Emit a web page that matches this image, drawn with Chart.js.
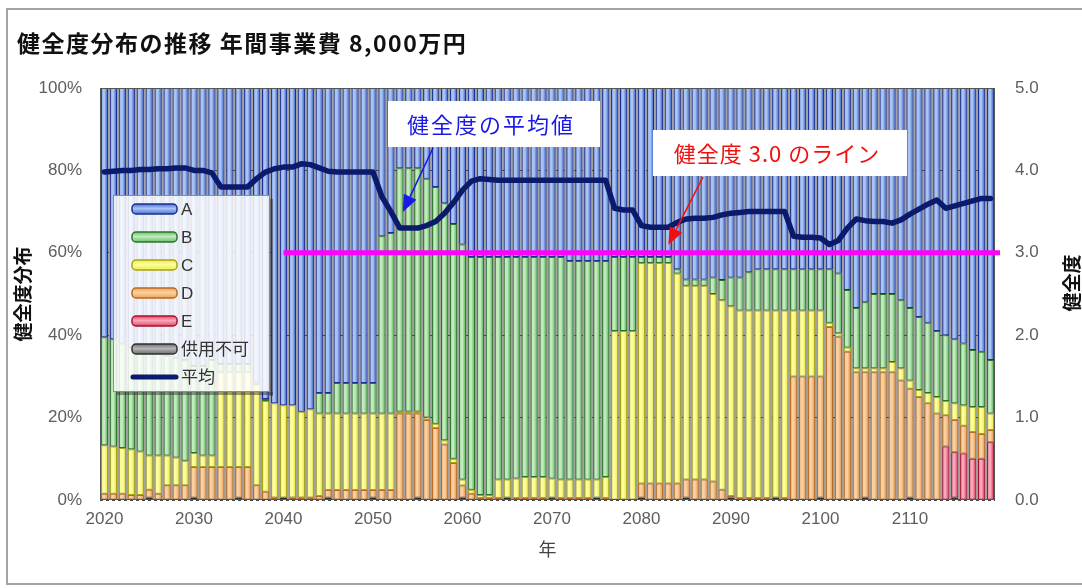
<!DOCTYPE html>
<html lang="ja">
<head>
<meta charset="utf-8">
<title>健全度分布の推移</title>
<script src="https://cdn.jsdelivr.net/npm/chart.js@4.4.1/dist/chart.umd.min.js"></script>
<style>
  html, body { margin: 0; padding: 0; background: #fff; overflow: hidden; }
  #wrap { width: 1082px; height: 588px; }
</style>
</head>
<body>
<div id="wrap"><canvas id="chart" width="1082" height="588"></canvas></div>
<script>
// Years on the category axis
const years = [
  2020, 2021, 2022, 2023, 2024, 2025, 2026, 2027, 2028, 2029,
  2030, 2031, 2032, 2033, 2034, 2035, 2036, 2037, 2038, 2039,
  2040, 2041, 2042, 2043, 2044, 2045, 2046, 2047, 2048, 2049,
  2050, 2051, 2052, 2053, 2054, 2055, 2056, 2057, 2058, 2059,
  2060, 2061, 2062, 2063, 2064, 2065, 2066, 2067, 2068, 2069,
  2070, 2071, 2072, 2073, 2074, 2075, 2076, 2077, 2078, 2079,
  2080, 2081, 2082, 2083, 2084, 2085, 2086, 2087, 2088, 2089,
  2090, 2091, 2092, 2093, 2094, 2095, 2096, 2097, 2098, 2099,
  2100, 2101, 2102, 2103, 2104, 2105, 2106, 2107, 2108, 2109,
  2110, 2111, 2112, 2113, 2114, 2115, 2116, 2117, 2118, 2119
];

// Share of each grade per year (%)
const gradeA = [
  60.5, 61, 62, 63, 63.5, 64, 64.2, 65, 65.5, 66,
  67.5, 67.5, 66, 67, 67, 67, 67, 71.5, 75.5, 76.5,
  77, 77, 78.6, 78, 74, 74, 71.6, 71.6, 71.6, 71.6,
  71.6, 36, 35.2, 19.5, 19.5, 19.5, 22, 24, 28, 33,
  38, 41, 41, 41, 41, 41, 41, 41, 41, 41,
  41, 41, 42, 42, 42, 42, 42, 41, 41, 41,
  41, 41, 41, 41, 44, 46.5, 46.5, 46.5, 46, 46.6,
  46, 46, 44.7, 44, 44, 44, 44, 44, 44, 44,
  44, 44, 45, 49, 53.4, 52, 50, 50, 50, 51.5,
  53.4, 55.6, 57, 59, 60, 61, 62, 63.6, 64, 66
];
const gradeB = [
  26.2, 26, 25.4, 24.7, 24.7, 25.2, 25, 24.2, 24.2, 24.5,
  21.1, 21.7, 23.2, 2, 2, 2, 2, 0.5, 0.5, 0,
  0, 0, 0, 0, 5, 5, 7.4, 7.4, 7.4, 7.4,
  7.4, 43, 43.8, 59, 59, 59, 58, 57.5, 57.5, 57,
  57, 56.5, 57.8, 57.8, 54, 54, 53.8, 53.4, 53.4, 53.4,
  53.8, 54, 53, 53, 53, 53, 52.4, 18, 18, 18,
  1.5, 1.5, 1.5, 1.5, 1, 1.5, 1.5, 1.5, 4, 4.9,
  7, 8, 9.3, 10, 10, 10, 10, 10, 10, 10,
  10, 13, 14.5, 14, 14.6, 16, 18, 18, 16.5, 16.5,
  17.6, 17.7, 17, 16, 16, 15.5, 15, 13.8, 13.4, 13
];
const gradeC = [
  11.8, 11.5, 11.1, 11.1, 10.6, 8.3, 9.3, 7.2, 6.7, 5.9,
  3.4, 2.8, 2.8, 23, 23, 23, 23, 24.4, 22, 22.9,
  22.4, 22.4, 20.8, 21.4, 20, 18.6, 18.6, 18.6, 18.6, 18.6,
  18.6, 18.6, 18.6, 0.5, 0.5, 0.5, 0.6, 1, 1, 1,
  1.5, 1, 0.7, 0.7, 4.5, 4.4, 4.7, 5.1, 5.1, 5.1,
  4.6, 4.5, 4.5, 4.5, 4.5, 4.4, 5.1, 41, 41, 41,
  53.5, 53.5, 53.5, 53.5, 51, 47, 47, 47, 45.5, 46,
  46, 45.5, 45.5, 45.5, 45.5, 45.4, 45.5, 16, 16, 16,
  16, 1, 0.9, 1, 1, 1, 1, 1, 2.5, 3,
  2, 1.7, 2.5, 4, 3.4, 4.1, 5, 6.1, 6.6, 4
];
const gradeD = [
  1.5, 1.5, 1.5, 1.2, 1.2, 1.9, 1.5, 3.6, 3.6, 3.6,
  7.4, 8, 8, 8, 8, 7.4, 8, 3.6, 2, 0.6,
  0, 0.6, 0.6, 0.6, 1, 1.8, 2.4, 2.4, 2.4, 2.4,
  1.8, 2.4, 2.4, 21, 21, 20.4, 19.4, 17.5, 13.5, 9,
  2.9, 1.5, 0.5, 0.5, 0.5, 0, 0.5, 0.5, 0.5, 0.5,
  0, 0.5, 0.5, 0.5, 0.5, 0, 0.5, 0, 0, 0,
  3.4, 4, 4, 4, 4, 4.4, 5, 5, 4.5, 2.5,
  0.4, 0.5, 0.5, 0.5, 0.5, 0, 0.5, 30, 30, 30,
  29.4, 42, 39.6, 36, 31, 30.4, 31, 31, 31, 29,
  26.4, 25, 23.5, 21, 7.6, 7.8, 6.7, 6.5, 6, 3
];
const gradeE = [
  0, 0, 0, 0, 0, 0, 0, 0, 0, 0,
  0, 0, 0, 0, 0, 0, 0, 0, 0, 0,
  0, 0, 0, 0, 0, 0, 0, 0, 0, 0,
  0, 0, 0, 0, 0, 0, 0, 0, 0, 0,
  0, 0, 0, 0, 0, 0, 0, 0, 0, 0,
  0, 0, 0, 0, 0, 0, 0, 0, 0, 0,
  0, 0, 0, 0, 0, 0, 0, 0, 0, 0,
  0, 0, 0, 0, 0, 0, 0, 0, 0, 0,
  0, 0, 0, 0, 0, 0, 0, 0, 0, 0,
  0, 0, 0, 0, 13, 11, 11.3, 10, 10, 14
];
const unusable = [
  0, 0, 0, 0, 0, 0.6, 0, 0, 0, 0,
  0.6, 0, 0, 0, 0, 0.6, 0, 0, 0, 0,
  0.6, 0, 0, 0, 0, 0.6, 0, 0, 0, 0,
  0.6, 0, 0, 0, 0, 0.6, 0, 0, 0, 0,
  0.6, 0, 0, 0, 0, 0.6, 0, 0, 0, 0,
  0.6, 0, 0, 0, 0, 0.6, 0, 0, 0, 0,
  0.6, 0, 0, 0, 0, 0.6, 0, 0, 0, 0,
  0.6, 0, 0, 0, 0, 0.6, 0, 0, 0, 0,
  0.6, 0, 0, 0, 0, 0.6, 0, 0, 0, 0,
  0.6, 0, 0, 0, 0, 0.6, 0, 0, 0, 0
];

// Average soundness score per year (right axis)
const avgGrade = [
  3.98, 3.99, 4.00, 4.00, 4.01, 4.01, 4.02, 4.02, 4.03, 4.03,
  4.00, 4.00, 3.97, 3.80, 3.80, 3.80, 3.80, 3.90, 3.98, 4.02,
  4.04, 4.04, 4.08, 4.07, 4.03, 3.99, 3.98, 3.98, 3.98, 3.98,
  3.98, 3.68, 3.50, 3.30, 3.30, 3.30, 3.33, 3.38, 3.48, 3.61,
  3.76, 3.87, 3.90, 3.89, 3.88, 3.88, 3.88, 3.88, 3.88, 3.88,
  3.88, 3.88, 3.88, 3.88, 3.88, 3.88, 3.88, 3.54, 3.52, 3.52,
  3.33, 3.31, 3.31, 3.31, 3.37, 3.41, 3.42, 3.42, 3.43, 3.46,
  3.48, 3.49, 3.50, 3.50, 3.50, 3.50, 3.50, 3.20, 3.19, 3.19,
  3.18, 3.10, 3.15, 3.30, 3.41, 3.39, 3.38, 3.38, 3.36, 3.40,
  3.47, 3.53, 3.59, 3.64, 3.54, 3.57, 3.60, 3.63, 3.66, 3.66
];

const pctTicks = [0, 20, 40, 60, 80, 100];
const scoreTicks = [0, 1, 2, 3, 4, 5];
const THRESHOLD = 3.0;       // target soundness line
const THRESHOLD_FROM = 20;   // index where the target line starts

const BAR_PCT = 0.8;
const JP = '"Noto Sans CJK JP", sans-serif';
const LATIN = '"Liberation Sans", "Noto Sans CJK JP", sans-serif';
const TICK_COLOR = '#5e5e5e';

// each bar gets a left-to-right gradient, like the old office fill
function stripeFill(light, mid, dark) {
  return (c) => {
    const xs = c.chart.scales.x;
    if (c.type !== 'data' || !xs || !xs.width) return mid;
    const half = xs.width / years.length * BAR_PCT / 2;
    const cx = xs.getPixelForValue(c.dataIndex);
    const g = c.chart.ctx.createLinearGradient(cx - half, 0, cx + half, 0);
    g.addColorStop(0, dark);
    g.addColorStop(0.25, light);
    g.addColorStop(0.5, light);
    g.addColorStop(0.85, mid);
    g.addColorStop(1, mid);
    return g;
  };
}

const grades = [
  { label: '供用不可', data: unusable, c: ['#b5b5b5', '#707070', '#303030'] },
  { label: 'E', data: gradeE, c: ['#f8a8ba', '#e64a6a', '#a8102e'] },
  { label: 'D', data: gradeD, c: ['#fbd0a0', '#f0a458', '#b86a1e'] },
  { label: 'C', data: gradeC, c: ['#fdfd9c', '#eded52', '#a8a412'] },
  { label: 'B', data: gradeB, c: ['#c0ecbc', '#6cc06c', '#2a742a'] },
  { label: 'A', data: gradeA, c: ['#a8c4f4', '#4f72d6', '#1c2e92'] }
];

const datasets = grades.map(g => ({
  type: 'bar',
  label: g.label,
  data: g.data,
  yAxisID: 'y',
  backgroundColor: stripeFill(g.c[0], g.c[1], g.c[2]),
  borderColor: g.c[2],
  borderWidth: 1,
  borderSkipped: false,
  barPercentage: BAR_PCT,
  categoryPercentage: 1,
  order: 1,
  colorSet: g.c
}));

datasets.push({
  type: 'line',
  label: '平均',
  data: avgGrade,
  yAxisID: 'y1',
  borderColor: '#0c1a6c',
  borderWidth: 5.5,
  pointRadius: 0,
  tension: 0,
  borderJoinStyle: 'round',
  borderCapStyle: 'round',
  order: 0
});

function drawArrow(ctx, x0, y0, x1, y1, color) {
  const ang = Math.atan2(y1 - y0, x1 - x0);
  const len = 17, wid = 7;
  const bx = x1 - len * Math.cos(ang), by = y1 - len * Math.sin(ang);
  ctx.strokeStyle = color;
  ctx.lineWidth = 1.6;
  ctx.beginPath();
  ctx.moveTo(x0, y0);
  ctx.lineTo(bx, by);
  ctx.stroke();
  ctx.fillStyle = color;
  ctx.beginPath();
  ctx.moveTo(x1, y1);
  ctx.lineTo(bx + wid * Math.sin(ang), by - wid * Math.cos(ang));
  ctx.lineTo(bx - wid * Math.sin(ang), by + wid * Math.cos(ang));
  ctx.closePath();
  ctx.fill();
}

function drawLegend(chart) {
  const ctx = chart.ctx;
  const box = { x: 113, y: 195, w: 157, h: 197 };
  ctx.save();
  // soft shadow on the right and bottom
  ctx.fillStyle = 'rgba(40,40,40,0.45)';
  ctx.fillRect(box.x + box.w, box.y + 4, 3, box.h);
  ctx.fillRect(box.x + 4, box.y + box.h, box.w - 1, 3);
  ctx.fillStyle = 'rgba(255,255,255,0.84)';
  ctx.fillRect(box.x, box.y, box.w, box.h);
  ctx.strokeStyle = '#8c8c8c';
  ctx.lineWidth = 1;
  ctx.strokeRect(box.x + 0.5, box.y + 0.5, box.w - 1, box.h - 1);

  const items = chart.data.datasets.filter(d => d.type === 'bar').slice().reverse();
  items.push(chart.data.datasets.find(d => d.type === 'line'));
  items.forEach((d, k) => {
    const cy = 209 + k * 28;
    if (d.type === 'bar') {
      const [light, mid, dark] = d.colorSet;
      const g = ctx.createLinearGradient(0, cy - 5, 0, cy + 5);
      g.addColorStop(0, mid);
      g.addColorStop(0.45, light);
      g.addColorStop(1, mid);
      ctx.fillStyle = g;
      ctx.strokeStyle = dark;
      ctx.lineWidth = 1.5;
      ctx.beginPath();
      ctx.roundRect(132, cy - 5, 45, 10, 4);
      ctx.fill();
      ctx.stroke();
    } else {
      ctx.strokeStyle = d.borderColor;
      ctx.lineWidth = 5;
      ctx.lineCap = 'round';
      ctx.beginPath();
      ctx.moveTo(133, cy);
      ctx.lineTo(176, cy);
      ctx.stroke();
    }
    ctx.fillStyle = '#333';
    ctx.font = '17px ' + LATIN;
    ctx.textBaseline = 'middle';
    ctx.textAlign = 'left';
    ctx.fillText(d.label, 181, cy + 1);
  });
  ctx.restore();
}

const decor = {
  id: 'decor',
  beforeDraw(chart) {
    const { ctx, chartArea: a } = chart;
    ctx.save();
    ctx.fillStyle = '#fff';
    ctx.fillRect(0, 0, chart.width, chart.height);
    ctx.strokeStyle = '#a4a4a4';
    ctx.lineWidth = 2;
    ctx.strokeRect(7, 9, chart.width, chart.height - 13);
    ctx.fillStyle = '#a2a2a2';
    ctx.fillRect(a.left, a.top, a.width, a.height);
    ctx.restore();
  },
  afterDatasetsDraw(chart) {
    const { ctx, chartArea: a, scales } = chart;
    ctx.save();
    ctx.strokeStyle = '#555';
    ctx.lineWidth = 1;
    ctx.strokeRect(a.left + 0.5, a.top + 0.5, a.width - 1, a.height - 1);

    // target soundness line
    const ty = scales.y1.getPixelForValue(THRESHOLD);
    ctx.strokeStyle = '#ff00ff';
    ctx.lineWidth = 5;
    ctx.beginPath();
    ctx.moveTo(scales.x.getPixelForValue(THRESHOLD_FROM), ty);
    ctx.lineTo(a.right + 5, ty);
    ctx.stroke();
    ctx.restore();

    drawLegend(chart);
  },
  afterDraw(chart) {
    const { ctx, chartArea: a, scales } = chart;
    ctx.save();
    // chart title
    ctx.fillStyle = '#111';
    ctx.font = 'bold 23px ' + JP;
    ctx.letterSpacing = '1.5px';
    ctx.textAlign = 'left';
    ctx.textBaseline = 'middle';
    ctx.fillText('健全度分布の推移 年間事業費 8,000万円', 17, 43);

    // right axis title, reading upward
    ctx.letterSpacing = '0px';
    ctx.font = 'bold 19px ' + JP;
    ctx.translate(1072, 283);
    ctx.rotate(-Math.PI / 2);
    ctx.textAlign = 'center';
    ctx.fillText('健全度', 0, 0);
    ctx.restore();

    // callouts
    const notes = [
      { text: '健全度の平均値', color: '#1a1ae6', spacing: '2px', box: [388, 101, 212, 46], tail: [433, 148],
        tip: [scales.x.getPixelForValue(33) + 3, scales.y1.getPixelForValue(avgGrade[33]) - 16] },
      { text: '健全度 3.0 のライン', color: '#f01010', spacing: '1px', box: [653, 130, 254, 46], tail: [703, 177],
        tip: [scales.x.getPixelForValue(63), scales.y1.getPixelForValue(THRESHOLD) - 8] }
    ];
    notes.forEach(n => {
      ctx.save();
      const [bx, by, bw, bh] = n.box;
      ctx.fillStyle = '#fff';
      ctx.fillRect(bx, by, bw, bh);
      ctx.fillStyle = n.color;
      ctx.font = '22px ' + JP;
      ctx.letterSpacing = n.spacing;
      ctx.textAlign = 'center';
      ctx.textBaseline = 'middle';
      ctx.fillText(n.text, bx + bw / 2 - 3, by + bh / 2 + 1);
      drawArrow(ctx, n.tail[0], n.tail[1], n.tip[0], n.tip[1], n.color);
      ctx.restore();
    });
  }
};

const tickFont = { family: LATIN, size: 17 };

new Chart(document.getElementById('chart'), {
  data: { labels: years, datasets },
  options: {
    responsive: false,
    animation: false,
    layout: { padding: { top: 88, left: 0, right: 0, bottom: 0 } },
    plugins: { legend: { display: false }, tooltip: { enabled: false }, title: { display: false } },
    scales: {
      x: {
        stacked: true,
        offset: true,
        grid: { display: false, drawTicks: false },
        border: { display: false },
        ticks: {
          autoSkip: false, maxRotation: 0, padding: 9, color: TICK_COLOR, font: tickFont,
          callback: (v, i) => (years[i] % 10 === 0 ? String(years[i]) : '')
        },
        title: { display: true, text: '年', color: '#444', font: { family: JP, size: 18 }, padding: { top: 0, bottom: 28 } },
        afterFit: s => { s.height = 88; }
      },
      y: {
        stacked: true,
        min: 0,
        max: 100,
        afterBuildTicks: s => { s.ticks = pctTicks.map(v => ({ value: v })); },
        ticks: { padding: 18, color: TICK_COLOR, font: tickFont, callback: v => v + '%' },
        grid: { color: '#474747', lineWidth: 1, drawTicks: false },
        border: { display: false, dash: [3, 3] },
        title: { display: true, text: '健全度分布', color: '#111', font: { family: JP, size: 19, weight: 'bold' }, padding: { top: 11, bottom: 0 } },
        afterFit: s => { s.width = 100; }
      },
      y1: {
        position: 'right',
        min: 0,
        max: 5,
        afterBuildTicks: s => { s.ticks = scoreTicks.map(v => ({ value: v })); },
        ticks: { padding: 20, color: TICK_COLOR, font: tickFont, callback: v => v.toFixed(1) },
        grid: { display: false, drawTicks: false },
        border: { display: false },
        afterFit: s => { s.width = 87; }
      }
    }
  },
  plugins: [decor]
});
</script>
</body>
</html>
